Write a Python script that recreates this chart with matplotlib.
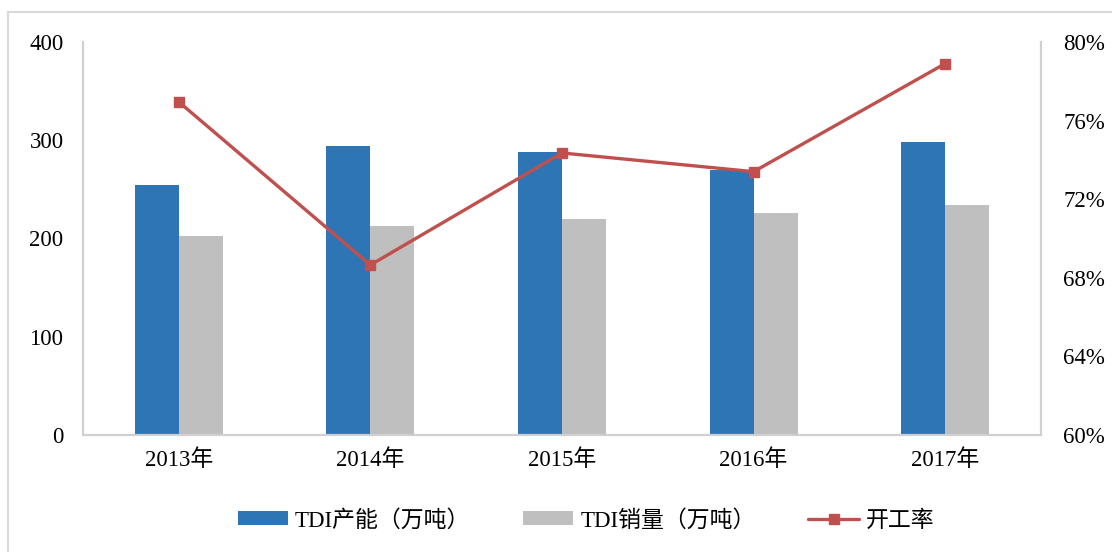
import numpy as np
import matplotlib.pyplot as plt
from matplotlib.lines import Line2D
from matplotlib.ticker import FuncFormatter

plt.rcParams['font.family'] = ['Liberation Serif', 'Noto Sans CJK SC']

years = ['2013年', '2014年', '2015年', '2016年', '2017年']
capacity = [254, 294, 288, 270, 298]      # TDI产能（万吨）
sales = [202, 213, 220, 226, 234]         # TDI销量（万吨）
utilization = [76.95, 68.65, 74.35, 73.4, 78.9]  # 开工率 %

BLUE = '#2E75B6'
GRAY = '#BFBFBF'
RED = '#C0504D'
SPINE = '#D0D0D0'

fig = plt.figure(figsize=(11.12, 5.52), dpi=100)
ax = fig.add_axes([0.0746, 0.212, 0.8616, 0.712])
ax2 = ax.twinx()

x = np.arange(len(years))
w = 0.23
ax.bar(x - w / 2, capacity, w, color=BLUE, label='TDI产能（万吨）', zorder=2)
ax.bar(x + w / 2, sales, w, color=GRAY, label='TDI销量（万吨）', zorder=2)

ax2.plot(x, utilization, color=RED, lw=2.4, marker='s', ms=6.5,
         markeredgecolor=RED, label='开工率', solid_capstyle='round')

ax.set_xlim(-0.5, len(years) - 0.5)
ax.set_ylim(0, 400)
ax.set_yticks(range(0, 401, 100))
ax2.set_ylim(60, 80)
ax2.set_yticks(range(60, 81, 4))
ax2.yaxis.set_major_formatter(FuncFormatter(lambda v, _: f'{v:.0f}%'))

ax.set_xticks(x)
ax.set_xticklabels(years)

for a in (ax, ax2):
    for s in a.spines.values():
        s.set_color(SPINE)
        s.set_linewidth(1.5)
    a.spines['top'].set_visible(False)
    a.tick_params(length=0, labelsize=16.5, colors='#000000')
ax.tick_params(axis='y', pad=14)
ax.tick_params(axis='x', pad=10)
ax2.tick_params(axis='y', pad=16)

# keep the line drawn above the bars
ax.set_zorder(1)
ax2.set_zorder(2)
ax.patch.set_visible(False)

h1, l1 = ax.get_legend_handles_labels()
h2, l2 = ax2.get_legend_handles_labels()
fig.legend(h1 + h2, l1 + l2, loc='center', bbox_to_anchor=(0.527, 0.057),
           ncol=3, frameon=False, fontsize=16.5, handlelength=2.2,
           handleheight=0.57, handletextpad=0.3, columnspacing=2.3)

# outer frame around the chart
fig.add_artist(Line2D([8 / 1112, 8 / 1112], [0, 1 - 12 / 552],
                      transform=fig.transFigure, color='#D9D9D9', lw=1.5))
fig.add_artist(Line2D([8 / 1112, 1], [1 - 12 / 552, 1 - 12 / 552],
                      transform=fig.transFigure, color='#D9D9D9', lw=1.5))

fig.savefig('out.png', dpi=100)
